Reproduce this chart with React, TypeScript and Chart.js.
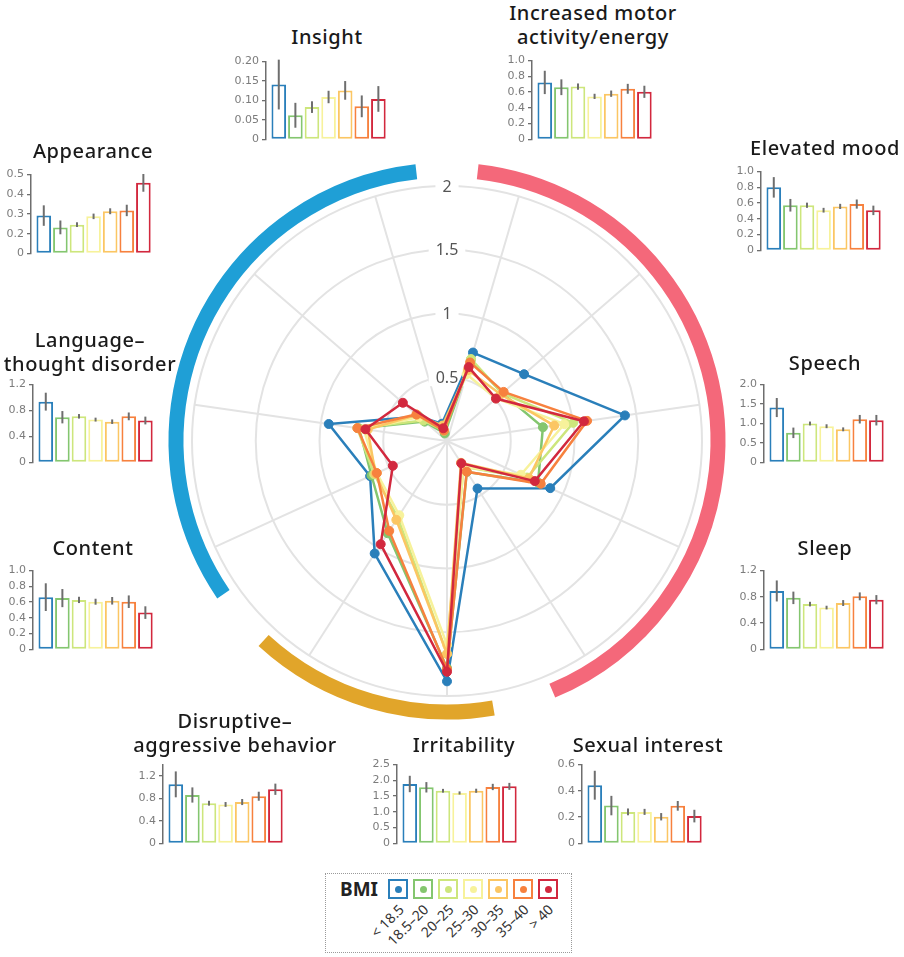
import React, { useEffect, useRef } from "react";
import { Chart, registerables } from "chart.js";
Chart.register(...registerables);

// ---------- DATA ----------
const groups = ["< 18.5", "18.5–20", "20–25", "25–30", "30–35", "35–40", "> 40"];
const groupColors = ["#2a7fba", "#84c66f", "#cde67c", "#f7f29b", "#fbc663", "#f7813e", "#d2283e"];

const radarCategories = [
  "Increased motor activity/energy", "Elevated mood", "Speech", "Sleep", "Sexual interest",
  "Irritability", "Disruptive-aggressive behavior", "Content", "Language-thought disorder",
  "Appearance", "Insight",
];
const radarTickValues = [0.5, 1, 1.5, 2];
const radarTickLabels = ["0.5", "1", "1.5", "2"];

const motorMeans = [0.723, 0.662, 0.67, 0.546, 0.58, 0.642, 0.604];
const motorErr = [0.148, 0.1, 0.04, 0.033, 0.04, 0.063, 0.077];
const moodMeans = [0.8, 0.573, 0.573, 0.51, 0.558, 0.588, 0.508];
const moodErr = [0.13, 0.08, 0.033, 0.03, 0.033, 0.058, 0.06];
const speechMeans = [1.41, 0.76, 1.0, 0.93, 0.85, 1.11, 1.085];
const speechErr = [0.245, 0.135, 0.05, 0.05, 0.05, 0.11, 0.135];
const sleepMeans = [0.89, 0.785, 0.69, 0.637, 0.706, 0.808, 0.757];
const sleepErr = [0.16, 0.095, 0.035, 0.028, 0.045, 0.06, 0.07];
const sexualMeans = [0.443, 0.288, 0.24, 0.24, 0.203, 0.286, 0.208];
const sexualErr = [0.11, 0.074, 0.026, 0.023, 0.028, 0.037, 0.048];
const irritabilityMeans = [1.885, 1.78, 1.67, 1.6, 1.67, 1.79, 1.81];
const irritabilityErr = [0.26, 0.165, 0.06, 0.05, 0.065, 0.1, 0.11];
const disruptiveMeans = [1.049, 0.86, 0.714, 0.692, 0.735, 0.838, 0.962];
const disruptiveErr = [0.23, 0.135, 0.043, 0.043, 0.054, 0.08, 0.1];
const contentMeans = [0.663, 0.651, 0.628, 0.605, 0.617, 0.605, 0.467];
const contentErr = [0.176, 0.115, 0.04, 0.038, 0.048, 0.08, 0.08];
const languageMeans = [0.937, 0.697, 0.711, 0.66, 0.628, 0.71, 0.646];
const languageErr = [0.138, 0.095, 0.035, 0.03, 0.035, 0.06, 0.06];
const appearanceMeans = [0.292, 0.232, 0.246, 0.288, 0.314, 0.318, 0.458];
const appearanceErr = [0.052, 0.035, 0.012, 0.014, 0.015, 0.029, 0.045];
const insightMeans = [0.141, 0.062, 0.083, 0.109, 0.126, 0.085, 0.104];
const insightErr = [0.064, 0.032, 0.015, 0.016, 0.024, 0.028, 0.033];

const radarMeans = [
  motorMeans, moodMeans, speechMeans, sleepMeans, sexualMeans, irritabilityMeans,
  disruptiveMeans, contentMeans, languageMeans, appearanceMeans, insightMeans,
];

// tick values / labels for the small bar charts
const insightTicks = [0, 0.05, 0.1, 0.15, 0.2];
const insightTickLabels = ["0", "0.05", "0.10", "0.15", "0.20"];
const tenthTicks = [0, 0.2, 0.4, 0.6, 0.8, 1.0];
const tenthTickLabels = ["0", "0.2", "0.4", "0.6", "0.8", "1.0"];
const speechTicks = [0, 0.5, 1, 1.5, 2];
const speechTickLabels = ["0", "0.5", "1.0", "1.5", "2.0"];
const irritabilityTicks = [0, 0.5, 1, 1.5, 2, 2.5];
const irritabilityTickLabels = ["0", "0.5", "1.0", "1.5", "2.0", "2.5"];
const fourTicks = [0, 0.4, 0.8, 1.2];
const fourTickLabels = ["0", "0.4", "0.8", "1.2"];
const sexualTicks = [0, 0.2, 0.4, 0.6];
const sexualTickLabels = ["0", "0.2", "0.4", "0.6"];
const appearanceTicks = [0.1, 0.2, 0.3, 0.4, 0.5];
const appearanceTickLabels = ["0", "0.2", "0.3", "0.4", "0.5"];

// arcs grouping (category index ranges)
const arcGroups = [
  { from: 7, to: 10, color: "#1f9fd6" },
  { from: 0, to: 4, color: "#f4687a" },
  { from: 5, to: 6, color: "#e1a52a" },
];

// ---------- LAYOUT ----------
type Panel = {
  title: string[]; means: number[]; errs: number[]; ticks: number[]; labels: string[];
  min: number; max: number; axisX: number; top: number; bottom: number; titleX: number; titleY: number;
};
const panels: Panel[] = [
  { title: ["Insight"], means: insightMeans, errs: insightErr, ticks: insightTicks, labels: insightTickLabels, min: 0, max: 0.2, axisX: 266, top: 60, bottom: 146, titleX: 327, titleY: 37 },
  { title: ["Increased motor", "activity/energy"], means: motorMeans, errs: motorErr, ticks: tenthTicks, labels: tenthTickLabels, min: 0, max: 1, axisX: 532, top: 59, bottom: 146, titleX: 593, titleY: 13 },
  { title: ["Elevated mood"], means: moodMeans, errs: moodErr, ticks: tenthTicks, labels: tenthTickLabels, min: 0, max: 1, axisX: 761, top: 170, bottom: 257, titleX: 825, titleY: 148 },
  { title: ["Speech"], means: speechMeans, errs: speechErr, ticks: speechTicks, labels: speechTickLabels, min: 0, max: 2, axisX: 764, top: 383, bottom: 469, titleX: 825, titleY: 363 },
  { title: ["Sleep"], means: sleepMeans, errs: sleepErr, ticks: fourTicks, labels: fourTickLabels, min: 0, max: 1.2, axisX: 764, top: 569, bottom: 656, titleX: 825, titleY: 548 },
  { title: ["Sexual interest"], means: sexualMeans, errs: sexualErr, ticks: sexualTicks, labels: sexualTickLabels, min: 0, max: 0.6, axisX: 582, top: 763, bottom: 850, titleX: 648, titleY: 745 },
  { title: ["Irritability"], means: irritabilityMeans, errs: irritabilityErr, ticks: irritabilityTicks, labels: irritabilityTickLabels, min: 0, max: 2.5, axisX: 397, top: 763, bottom: 850, titleX: 464, titleY: 745 },
  { title: ["Disruptive–", "aggressive behavior"], means: disruptiveMeans, errs: disruptiveErr, ticks: fourTicks, labels: fourTickLabels, min: 0, max: 1.4, axisX: 163, top: 763, bottom: 850, titleX: 235, titleY: 721 },
  { title: ["Content"], means: contentMeans, errs: contentErr, ticks: tenthTicks, labels: tenthTickLabels, min: 0, max: 1, axisX: 33, top: 569, bottom: 656, titleX: 93, titleY: 548 },
  { title: ["Language–", "thought disorder"], means: languageMeans, errs: languageErr, ticks: fourTicks, labels: fourTickLabels, min: 0, max: 1.2, axisX: 33, top: 383, bottom: 469, titleX: 90, titleY: 340 },
  { title: ["Appearance"], means: appearanceMeans, errs: appearanceErr, ticks: appearanceTicks, labels: appearanceTickLabels, min: 0.1, max: 0.5, axisX: 31, top: 173, bottom: 260, titleX: 93, titleY: 151 },
];

const AXIS_W = 40;
const AREA_W = 120;
const PAD_T = 8;
const PAD_B = 3;

function BarPanel({ p }: { p: Panel }) {
  const ref = useRef<HTMLCanvasElement>(null);
  const W = AXIS_W + AREA_W + 2;
  const H = PAD_T + (p.bottom - p.top) + PAD_B;
  useEffect(() => {
    const errPlugin = {
      id: "errbars",
      afterDatasetsDraw(chart: any) {
        const meta = chart.getDatasetMeta(0);
        const ys = chart.scales.y;
        const ctx = chart.ctx;
        ctx.save();
        ctx.strokeStyle = "#6e6e6e";
        ctx.lineWidth = 2;
        meta.data.forEach((el: any, i: number) => {
          const y1 = ys.getPixelForValue(p.means[i] + p.errs[i]);
          const y2 = ys.getPixelForValue(p.means[i] - p.errs[i]);
          ctx.beginPath();
          ctx.moveTo(el.x, y1);
          ctx.lineTo(el.x, y2);
          ctx.stroke();
        });
        ctx.restore();
      },
    };
    const chart = new Chart(ref.current!, {
      type: "bar",
      data: {
        datasets: [
          {
            data: p.means.map((m, i) => ({ x: i, y: m })),
            backgroundColor: "#ffffff",
            borderColor: groupColors,
            borderWidth: 2,
            borderSkipped: false,
            barPercentage: 0.88,
            categoryPercentage: 1,
            base: p.min,
          } as any,
        ],
      },
      options: {
        animation: false,
        responsive: false,
        layout: { padding: { top: PAD_T, bottom: PAD_B, left: 0, right: 2 } },
        plugins: { legend: { display: false }, tooltip: { enabled: false } },
        scales: {
          x: {
            type: "linear",
            display: false,
            offset: false,
            bounds: "data",
            min: -0.77,
            max: 6.46,
            grid: { offset: false },
          } as any,
          y: {
            min: p.min,
            max: p.max,
            afterBuildTicks: (s: any) => {
              s.ticks = p.ticks.map((v) => ({ value: v }));
            },
            afterFit: (s: any) => {
              s.width = AXIS_W;
            },
            ticks: {
              callback: (v: any) => {
                const k = p.ticks.findIndex((t) => Math.abs(t - v) < 1e-9);
                return k >= 0 ? p.labels[k] : "";
              },
              font: { family: "'DejaVu Sans', sans-serif", size: 11 },
              color: "#7c7c7c",
              padding: 3,
            },
            grid: { display: true, drawOnChartArea: false, drawTicks: true, tickLength: 4, color: "#6e6e6e", lineWidth: 1.3 },
            border: { display: true, color: "#6e6e6e", width: 1.5 },
          } as any,
        },
      },
      plugins: [errPlugin],
    });
    return () => chart.destroy();
  }, []);
  return (
    <>
      <canvas
        ref={ref}
        width={W}
        height={H}
        style={{ position: "absolute", left: p.axisX - AXIS_W, top: p.top - PAD_T, width: W, height: H }}
      />
      <div
        style={{
          position: "absolute",
          left: p.titleX - 150,
          top: p.titleY - 12,
          width: 300,
          textAlign: "center",
          fontSize: 20,
          lineHeight: "24px",
          fontWeight: 500,
          color: "#1a1a1a",
          letterSpacing: 0.6,
          whiteSpace: "nowrap",
        }}
      >
        {p.title.map((t, i) => (
          <div key={i}>{t}</div>
        ))}
      </div>
    </>
  );
}

const RADAR_SIZE = 600;
const RADAR_PAD = 45;
const RADAR_CX = 447;
const RADAR_CY = 441;

function Radar() {
  const ref = useRef<HTMLCanvasElement>(null);
  useEffect(() => {
    const tickPlugin = {
      id: "radarTicks",
      beforeDatasetsDraw(chart: any) {
        const s = chart.scales.r;
        const ctx = chart.ctx;
        ctx.save();
        ctx.font = "16px 'Noto Sans', sans-serif";
        ctx.textAlign = "center";
        ctx.textBaseline = "middle";
        radarTickValues.forEach((v, i) => {
          const y = s.yCenter - s.getDistanceFromCenterForValue(v);
          const w = ctx.measureText(radarTickLabels[i]).width;
          ctx.fillStyle = "#ffffff";
          ctx.fillRect(s.xCenter - w / 2 - 7, y - 9, w + 14, 18);
          ctx.fillStyle = "#555555";
          ctx.fillText(radarTickLabels[i], s.xCenter, y + 1);
        });
        ctx.restore();
      },
    };
    const arcPlugin = {
      id: "arcs",
      afterDraw(chart: any) {
        const s = chart.scales.r;
        const ctx = chart.ctx;
        const step = (Math.PI * 2) / radarCategories.length;
        const gap = (6.5 * Math.PI) / 180;
        ctx.save();
        ctx.lineWidth = 15;
        ctx.lineCap = "butt";
        arcGroups.forEach((g) => {
          const a0 = s.getIndexAngle(g.from) - step / 2 + gap - Math.PI / 2;
          let a1 = s.getIndexAngle(g.to) + step / 2 - gap - Math.PI / 2;
          if (a1 < a0) a1 += Math.PI * 2;
          ctx.strokeStyle = g.color;
          ctx.beginPath();
          ctx.arc(s.xCenter, s.yCenter, s.drawingArea + 16, a0, a1);
          ctx.stroke();
        });
        ctx.restore();
      },
    };
    const chart = new Chart(ref.current!, {
      type: "radar",
      data: {
        labels: radarCategories,
        datasets: groups.map((g, gi) => ({
          label: g,
          data: radarMeans.map((arr) => arr[gi]),
          borderColor: groupColors[gi],
          backgroundColor: groupColors[gi],
          pointBackgroundColor: groupColors[gi],
          pointBorderColor: groupColors[gi],
          pointRadius: 4.5,
          pointBorderWidth: 1,
          borderWidth: 2.5,
          fill: false,
          order: groups.length - gi,
        })),
      },
      options: {
        animation: false,
        responsive: false,
        layout: { padding: RADAR_PAD },
        plugins: { legend: { display: false }, tooltip: { enabled: false } },
        scales: {
          r: {
            min: 0,
            max: 2,
            startAngle: 360 / radarCategories.length / 2,
            ticks: { display: false, stepSize: 0.5 },
            grid: { circular: true, color: "#e3e3e3", lineWidth: 2 },
            angleLines: { color: "#e3e3e3", lineWidth: 2 },
            pointLabels: { display: false },
          },
        },
      },
      plugins: [tickPlugin, arcPlugin],
    });
    return () => chart.destroy();
  }, []);
  return (
    <canvas
      ref={ref}
      width={RADAR_SIZE}
      height={RADAR_SIZE}
      style={{
        position: "absolute",
        left: RADAR_CX - RADAR_SIZE / 2,
        top: RADAR_CY - RADAR_SIZE / 2,
        width: RADAR_SIZE,
        height: RADAR_SIZE,
      }}
    />
  );
}

function Legend() {
  const boxL = 325, boxT = 873;
  return (
    <>
      <div
        style={{
          position: "absolute",
          left: boxL,
          top: boxT,
          width: 245,
          height: 78,
          border: "1.5px dotted #9a9a9a",
        }}
      />
      <div
        style={{
          position: "absolute",
          left: 340,
          top: 877,
          fontSize: 19,
          lineHeight: "24px",
          fontWeight: 700,
          color: "#222",
        }}
      >
        BMI
      </div>
      {groups.map((g, i) => {
        const x = 388 + 25 * i;
        return (
          <React.Fragment key={g}>
            <div
              style={{
                position: "absolute",
                left: x,
                top: 879,
                width: 16,
                height: 16,
                border: `2px solid ${groupColors[i]}`,
              }}
            >
              <div
                style={{
                  position: "absolute",
                  left: 4.5,
                  top: 4.5,
                  width: 7,
                  height: 7,
                  borderRadius: "50%",
                  background: groupColors[i],
                }}
              />
            </div>
            <div style={{ position: "absolute", left: x + 13, top: 907, width: 0, height: 0 }}>
              <span
                style={{
                  position: "absolute",
                  right: 0,
                  top: -8,
                  lineHeight: "16px",
                  fontSize: 14,
                  color: "#333",
                  whiteSpace: "nowrap",
                  transformOrigin: "100% 50%",
                  transform: "rotate(-45deg)",
                }}
              >
                {g}
              </span>
            </div>
          </React.Fragment>
        );
      })}
    </>
  );
}

export default function App() {
  return (
    <div
      style={{
        position: "absolute",
        left: 0,
        top: 0,
        width: 904,
        height: 957,
        overflow: "hidden",
        background: "#ffffff",
        fontFamily: "'Noto Sans', sans-serif",
      }}
    >
      <Radar />
      {panels.map((p, i) => (
        <BarPanel key={i} p={p} />
      ))}
      <Legend />
    </div>
  );
}
